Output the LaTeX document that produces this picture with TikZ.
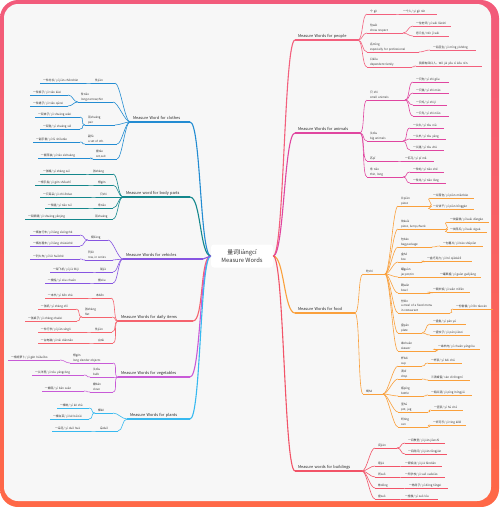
\documentclass[tikz,border=0pt]{standalone}
\usepackage{fontspec}
\setmainfont{Noto Sans CJK SC}
\usetikzlibrary{positioning}
\definecolor{framepink}{RGB}{242,91,123}
\definecolor{frameorange}{RGB}{255,104,70}
\definecolor{canvas}{RGB}{247,247,247}
\definecolor{cpeople}{RGB}{243,96,125}
\definecolor{canimal}{RGB}{224,70,160}
\definecolor{cfood}{RGB}{250,160,60}
\definecolor{cbuild}{RGB}{242,84,104}
\definecolor{ccloth}{RGB}{35,140,210}
\definecolor{cbody}{RGB}{20,135,140}
\definecolor{cvehicle}{RGB}{135,85,225}
\definecolor{cdaily}{RGB}{245,99,110}
\definecolor{cveg}{RGB}{200,90,215}
\definecolor{cplant}{RGB}{55,185,240}
\newcommand\fsub{\fontsize{2.85}{4.5}\selectfont}
\newcommand\fmain{\fontsize{3.9}{5}\selectfont}
\tikzset{
  root/.style={
    fill=white,
    rounded corners=3pt,
    align=center,
    minimum width=62pt,
    minimum height=23pt,
    text=black!80,
    font=\fontsize{5.8}{7.4}\selectfont
  },
  topic/.style={
    anchor=south west,
    align=left,
    inner xsep=3pt,
    inner ysep=.5pt,
    outer sep=0pt,
    text=black!80,
    font=\fsub,
    execute at end node=\strut,
    append after command={(\tikzlastnode.south west) edge[draw=#1,line width=.6pt] (\tikzlastnode.south east)}
  },
  branch/.style={
    anchor=south west,
    align=left,
    inner xsep=3pt,
    inner ysep=.6pt,
    outer sep=0pt,
    text=black!85,
    font=\fmain,
    execute at end node=\strut,
    append after command={(\tikzlastnode.south west) edge[draw=#1,line width=1.1pt] (\tikzlastnode.south east)}
  },
  link/.style={draw=#1,line width=.6pt},
  trunk/.style={draw=#1,line width=1.1pt},
  rc/.style={to path={.. controls +(#1,0) and +(-#1,0) .. (\tikztotarget)}},
  rc/.default=5,
  lc/.style={to path={.. controls +(-#1,0) and +(#1,0) .. (\tikztotarget)}},
  lc/.default=5
}
\begin{document}
\begin{tikzpicture}[x=1pt,y=-1pt]
\useasboundingbox (0,0) rectangle (500,507);
\fill[white] (0,0) rectangle (500,507);
\shade[top color=framepink,bottom color=frameorange,rounded corners=18pt] (0,0) rectangle (499,507);
\fill[canvas,rounded corners=14pt] (4,4) rectangle (491,501);

\node[root] (root) at (242,256) {量词liàngcí\\Measure Words};

% people
\node[branch=cpeople,text width=57pt] (P) at (295,40) {Measure Words for people};
\node[topic=cpeople,text width=22pt] (P1) at (367,14) {个 gè};
\node[topic=cpeople,text width=31pt] (P1a) at (400,14) {一个人/ yī gè rén};
\node[topic=cpeople,text width=30pt] (P2) at (367,33) {位wèi\\show respect};
\node[topic=cpeople,text width=32pt] (P2a) at (413,26) {一位老师/ yí wèi lǎoshī};
\node[topic=cpeople,text width=30pt] (P2b) at (413,36) {您几位/ Nín jǐ wèi};
\node[topic=cpeople,text width=46pt] (P3) at (367,52) {名míng\\especially for professional};
\node[topic=cpeople,text width=40pt] (P3a) at (430,50) {一名医生/ yì míng yīshēng};
\node[topic=cpeople,text width=39pt] (P4) at (367,67) {口kǒu\\dependent family};
\node[topic=cpeople,text width=60pt] (P4a) at (416,66) {我家有四口人。Wǒ jiā yǒu sì kǒu rén.};

% animals
\node[branch=canimal,text width=59pt] (A) at (295,133) {Measure Words for animals};
\node[topic=canimal,text width=32pt] (A1) at (367,100) {只 zhī\\small animals};
\node[topic=canimal,text width=30pt] (A1a) at (413,82) {一只狗/ yì zhī gǒu};
\node[topic=canimal,text width=30pt] (A1b) at (413,93) {一只猫/ yì zhī māo};
\node[topic=canimal,text width=28pt] (A1c) at (413,105) {一只鸡/ yì zhī jī};
\node[topic=canimal,text width=30pt] (A1d) at (413,116) {一只鸟/ yì zhī niǎo};
\node[topic=canimal,text width=30pt] (A2) at (367,141) {头tóu\\big animals};
\node[topic=canimal,text width=28pt] (A2a) at (410,128) {一头牛/ yì tóu niú};
\node[topic=canimal,text width=30pt] (A2b) at (410,139) {一头羊/ yì tóu yáng};
\node[topic=canimal,text width=28pt] (A2c) at (410,150) {一头猪/ yì tóu zhū};
\node[topic=canimal,text width=24pt] (A3) at (367,161) {匹pǐ};
\node[topic=canimal,text width=26pt] (A3a) at (402,161) {一匹马/ yì pǐ mǎ};
\node[topic=canimal,text width=30pt] (A4) at (367,177) {条 tiáo\\thin, long};
\node[topic=canimal,text width=28pt] (A4a) at (410,172) {一条蛇/ yì tiáo shé};
\node[topic=canimal,text width=30pt] (A4b) at (410,183) {一条龙/ yì tiáo lóng};

% food
\node[branch=cfood,text width=54pt] (F) at (295,313) {Measure Words for food};
\node[topic=cfood,text width=16pt] (F1) at (363,274) {吃chī};
\node[topic=cfood,text width=14pt] (F2) at (363,394) {喝hē};
\node[topic=cfood,text width=26pt] (F1a) at (398,206) {片piàn\\piece};
\node[topic=cfood,text width=38pt] (F1a1) at (430,198) {一片面包/ yí piàn miànbāo};
\node[topic=cfood,text width=38pt] (F1a2) at (430,209) {一片饼干/ yí piàn bǐnggān};
\node[topic=cfood,text width=42pt] (F1b) at (398,229) {块kuài\\piece, lump,chunk};
\node[topic=cfood,text width=36pt] (F1b1) at (447,222) {一块蛋糕/ yí kuài dàngāo};
\node[topic=cfood,text width=34pt] (F1b2) at (447,232) {一块西瓜/ yí kuài xīguā};
\node[topic=cfood,text width=28pt] (F1c) at (398,247) {包bāo\\bag,package};
\node[topic=cfood,text width=37pt] (F1c1) at (440,246) {一包薯片/ yì bāo shǔpiàn};
\node[topic=cfood,text width=18pt] (F1d) at (398,262) {盒hé\\box};
\node[topic=cfood,text width=42pt] (F1d1) at (424,261) {一盒巧克力/ yì hé qiǎokèlì};
\node[topic=cfood,text width=32pt] (F1e) at (398,277) {罐guàn\\jar,pot,tin};
\node[topic=cfood,text width=38pt] (F1e1) at (437,277) {一罐果酱/ yí guàn guǒjiàng};
\node[topic=cfood,text width=26pt] (F1f) at (398,293) {碗wǎn\\bowl};
\node[topic=cfood,text width=34pt] (F1f1) at (430,292) {一碗米饭/ yì wǎn mǐfàn};
\node[topic=cfood,text width=46pt] (F1g) at (398,313) {份fèn\\a meal of a fixed menu\\in restaurant};
\node[topic=cfood,text width=34pt] (F1g1) at (453,309) {一份套餐/ yí fèn tàocān};
\node[topic=cfood,text width=18pt] (F1h) at (398,333) {盘pán\\plate};
\node[topic=cfood,text width=30pt] (F1h1) at (430,324) {一盘鱼/ yì pán yú};
\node[topic=cfood,text width=34pt] (F1h2) at (430,335) {一盘饺子/ yì pán jiǎozi};
\node[topic=cfood,text width=32pt] (F1i) at (398,351) {串chuàn\\skewer};
\node[topic=cfood,text width=39pt] (F1i1) at (435,349) {一串羊肉/ yí chuàn yángròu};
\node[topic=cfood,text width=18pt] (F2a) at (398,366) {杯bēi\\cup};
\node[topic=cfood,text width=28pt] (F2a1) at (428,363) {一杯茶/ yì bēi chá};
\node[topic=cfood,text width=18pt] (F2b) at (398,379) {滴dī\\drop};
\node[topic=cfood,text width=36pt] (F2b1) at (428,380) {三滴蜂蜜/ sān dī fēngmì};
\node[topic=cfood,text width=20pt] (F2c) at (398,396) {瓶píng\\bottle};
\node[topic=cfood,text width=38pt] (F2c1) at (428,395) {一瓶红酒/ yì píng hóngjiǔ};
\node[topic=cfood,text width=24pt] (F2d) at (398,412) {壶hú\\pot, jug};
\node[topic=cfood,text width=26pt] (F2d1) at (431,410) {一壶茶/ yì hú chá};
\node[topic=cfood,text width=24pt] (F2e) at (398,427) {听tīng\\can};
\node[topic=cfood,text width=30pt] (F2e1) at (430,425) {一听可乐/ yì tīng kělè};

% buildings
\node[branch=cbuild,text width=61pt] (B) at (295,471) {Measure words for buildings};
\node[topic=cbuild,text width=16pt] (B1) at (375,448) {间jiān};
\node[topic=cbuild,text width=34pt] (B1a) at (405,443) {一间教室/ yì jiān jiàoshì};
\node[topic=cbuild,text width=36pt] (B1b) at (405,454) {一间房间/ yì jiān fángjiān};
\node[topic=cbuild,text width=18pt] (B2) at (375,466) {家jiā};
\node[topic=cbuild,text width=34pt] (B2a) at (402,466) {一家饭店/ yì jiā fàndiàn};
\node[topic=cbuild,text width=18pt] (B3) at (375,477) {所suǒ};
\node[topic=cbuild,text width=37pt] (B3a) at (402,477) {一所学校/ yì suǒ xuéxiào};
\node[topic=cbuild,text width=22pt] (B4) at (375,488) {栋dòng};
\node[topic=cbuild,text width=36pt] (B4a) at (406,488) {一栋房子/ yí dòng fángzi};
\node[topic=cbuild,text width=18pt] (B5) at (375,499) {座zuò};
\node[topic=cbuild,text width=30pt] (B5a) at (402,499) {一座楼/ yí zuò lóu};

% clothes
\node[branch=ccloth,text width=54pt] (C) at (130,122) {Measure Word for clothes};
\node[topic=ccloth,text width=17pt] (C1) at (92,83) {件jiàn};
\node[topic=ccloth,text width=39pt] (C1a) at (40,83) {一件衬衫/ yí jiàn chènshān};
\node[topic=ccloth,text width=29pt] (C2) at (78,102) {条tiáo\\long,narrow,thin};
\node[topic=ccloth,text width=32pt] (C2a) at (30,95) {一条裤子/ yì tiáo kùzi};
\node[topic=ccloth,text width=32pt] (C2b) at (30,106) {一条裙子/ yì tiáo qúnzi};
\node[topic=ccloth,text width=24pt] (C3) at (85,125) {双shuāng\\pair};
\node[topic=ccloth,text width=39pt] (C3a) at (35,117) {一双袜子/ yì shuāng wàzi};
\node[topic=ccloth,text width=34pt] (C3b) at (40,129) {一双鞋/ yì shuāng xié};
\node[topic=ccloth,text width=26pt] (C4) at (85,144) {副fù\\a set of sth.};
\node[topic=ccloth,text width=41pt] (C4a) at (33,142) {一副手套/ yí fù shǒutào};
\node[topic=ccloth,text width=18pt] (C5) at (93,159) {套tào\\set,suit};
\node[topic=ccloth,text width=46pt] (C5a) at (38,158) {一套西装/ yí tào xīzhuāng};

% body parts
\node[branch=cbody,text width=61pt] (T) at (123,197) {Measure word for body parts};
\node[topic=cbody,text width=17pt] (T1) at (90,174) {张zhāng};
\node[topic=cbody,text width=39pt] (T1a) at (40,174) {一张嘴/ yì zhāng zuǐ};
\node[topic=cbody,text width=12pt] (T2) at (95,185) {根gēn};
\node[topic=cbody,text width=46pt] (T2a) at (35,185) {一根手指/ yì gēn shǒuzhǐ};
\node[topic=cbody,text width=10pt] (T3) at (97,197) {只zhī};
\node[topic=cbody,text width=44pt] (T3a) at (40,197) {一只耳朵/ yì zhī ěrduo};
\node[topic=cbody,text width=12pt] (T4) at (95,208) {条tiáo};
\node[topic=cbody,text width=36pt] (T4a) at (45,208) {一条腿/ yì tiáo tuǐ};
\node[topic=cbody,text width=15pt] (T5) at (92,219) {双shuāng};
\node[topic=cbody,text width=52pt] (T5a) at (25,219) {一双眼睛/ yì shuāng yǎnjing};

% vehicles
\node[branch=cvehicle,text width=74pt] (V) at (123,259) {Measure Words for vehicles};
\node[topic=cvehicle,text width=14pt] (V1) at (88,240) {辆liàng};
\node[topic=cvehicle,text width=44pt] (V1a) at (30,235) {一辆自行车/ yí liàng zìxíngchē};
\node[topic=cvehicle,text width=44pt] (V1b) at (30,246) {一辆出租车/ yí liàng chūzūchē};
\node[topic=cvehicle,text width=22pt] (V2) at (85,260) {列liè\\row, in series};
\node[topic=cvehicle,text width=44pt] (V2a) at (30,259) {一列火车/ yí liè huǒchē};
\node[topic=cvehicle,text width=10pt] (V3) at (97,272) {架jià};
\node[topic=cvehicle,text width=36pt] (V3a) at (50,272) {一架飞机/ yí jià fēijī};
\node[topic=cvehicle,text width=12pt] (V4) at (95,283) {艘sōu};
\node[topic=cvehicle,text width=38pt] (V4a) at (45,283) {一艘船/ yì sōu chuán};

% daily items
\node[branch=cdaily,text width=69pt] (D) at (118,321) {Measure Words for daily items};
\node[topic=cdaily,text width=12pt] (D1) at (93,298) {本běn};
\node[topic=cdaily,text width=36pt] (D1a) at (45,298) {一本书/ yì běn shū};
\node[topic=cdaily,text width=24pt] (D2) at (82,317) {张zhāng\\flat};
\node[topic=cdaily,text width=32pt] (D2a) at (38,309) {一张纸/ yì zhāng zhǐ};
\node[topic=cdaily,text width=46pt] (D2b) at (25,321) {一张桌子/ yì zhāng zhuōzi};
\node[topic=cdaily,text width=14pt] (D3) at (92,332) {件jiàn};
\node[topic=cdaily,text width=42pt] (D3a) at (38,332) {一件行李/ yí jiàn xíngli};
\node[topic=cdaily,text width=12pt] (D4) at (95,343) {台tái};
\node[topic=cdaily,text width=44pt] (D4a) at (38,343) {一台电脑/ yì tái diànnǎo};

% vegetables
\node[branch=cveg,text width=66pt] (G) at (118,377) {Measure Words for vegetables};
\node[topic=cveg,text width=37pt] (G1) at (70,363) {根gēn\\long slender objects};
\node[topic=cveg,text width=46pt] (G1a) at (8,360) {一根胡萝卜/ yì gēn húluóbo};
\node[topic=cveg,text width=17pt] (G2) at (90,377) {头tóu\\bulb};
\node[topic=cveg,text width=46pt] (G2a) at (32,375) {一头洋葱/ yì tóu yángcōng};
\node[topic=cveg,text width=17pt] (G3) at (90,392) {瓣bàn\\clove};
\node[topic=cveg,text width=36pt] (G3a) at (42,391) {一瓣蒜/ yí bàn suàn};

% plants
\node[branch=cplant,text width=57pt] (L) at (127,419) {Measure Words for plants};
\node[topic=cplant,text width=12pt] (L1) at (95,413) {棵kē};
\node[topic=cplant,text width=26pt] (L1a) at (57,408) {一棵树/ yì kē shù};
\node[topic=cplant,text width=33pt] (L1b) at (50,419) {一棵白菜/ yì kē báicài};
\node[topic=cplant,text width=15pt] (L2) at (97,431) {朵duǒ};
\node[topic=cplant,text width=32pt] (L2a) at (52,431) {一朵花/ yì duǒ huā};

% trunks from the centre
\foreach \m/\c in {P/cpeople,A/canimal,F/cfood,B/cbuild}
  \draw[trunk=\c] (root.east) to[rc=11] (\m.south west);
\foreach \m/\c in {C/ccloth,T/cbody,D/cdaily,G/cveg,L/cplant}
  \draw[trunk=\c] (root.west) to[lc=11] (\m.south east);
\draw[trunk=cvehicle] (root.west) to[lc=3] (V.south east);

% right side links
\foreach \a/\b in {P/P1,P/P2,P/P3,P/P4,P1/P1a,P2/P2a,P2/P2b,P3/P3a,P4/P4a}
  \draw[link=cpeople] (\a.south east) to[rc] (\b.south west);
\foreach \a/\b in {A/A1,A/A2,A/A3,A/A4,A1/A1a,A1/A1b,A1/A1c,A1/A1d,A2/A2a,A2/A2b,A2/A2c,A3/A3a,A4/A4a,A4/A4b}
  \draw[link=canimal] (\a.south east) to[rc] (\b.south west);
\foreach \a/\b in {F/F1,F/F2,F1/F1a,F1/F1b,F1/F1c,F1/F1d,F1/F1e,F1/F1f,F1/F1g,F1/F1h,F1/F1i,
    F1a/F1a1,F1a/F1a2,F1b/F1b1,F1b/F1b2,F1c/F1c1,F1d/F1d1,F1e/F1e1,F1f/F1f1,F1g/F1g1,F1h/F1h1,F1h/F1h2,F1i/F1i1,
    F2/F2a,F2/F2b,F2/F2c,F2/F2d,F2/F2e,F2a/F2a1,F2b/F2b1,F2c/F2c1,F2d/F2d1,F2e/F2e1}
  \draw[link=cfood] (\a.south east) to[rc] (\b.south west);
\foreach \a/\b in {B/B1,B/B2,B/B3,B/B4,B/B5,B1/B1a,B1/B1b,B2/B2a,B3/B3a,B4/B4a,B5/B5a}
  \draw[link=cbuild] (\a.south east) to[rc] (\b.south west);

% left side links
\foreach \a/\b in {C/C1,C/C2,C/C3,C/C4,C/C5,C1/C1a,C2/C2a,C2/C2b,C3/C3a,C3/C3b,C4/C4a,C5/C5a}
  \draw[link=ccloth] (\a.south west) to[lc] (\b.south east);
\foreach \a/\b in {T/T1,T/T2,T/T3,T/T4,T/T5,T1/T1a,T2/T2a,T3/T3a,T4/T4a,T5/T5a}
  \draw[link=cbody] (\a.south west) to[lc] (\b.south east);
\foreach \a/\b in {V/V1,V/V2,V/V3,V/V4,V1/V1a,V1/V1b,V2/V2a,V3/V3a,V4/V4a}
  \draw[link=cvehicle] (\a.south west) to[lc] (\b.south east);
\foreach \a/\b in {D/D1,D/D2,D/D3,D/D4,D1/D1a,D2/D2a,D2/D2b,D3/D3a,D4/D4a}
  \draw[link=cdaily] (\a.south west) to[lc] (\b.south east);
\foreach \a/\b in {G/G1,G/G2,G/G3,G1/G1a,G2/G2a,G3/G3a}
  \draw[link=cveg] (\a.south west) to[lc] (\b.south east);
\foreach \a/\b in {L/L1,L/L2,L1/L1a,L1/L1b,L2/L2a}
  \draw[link=cplant] (\a.south west) to[lc] (\b.south east);
\end{tikzpicture}
\end{document}
